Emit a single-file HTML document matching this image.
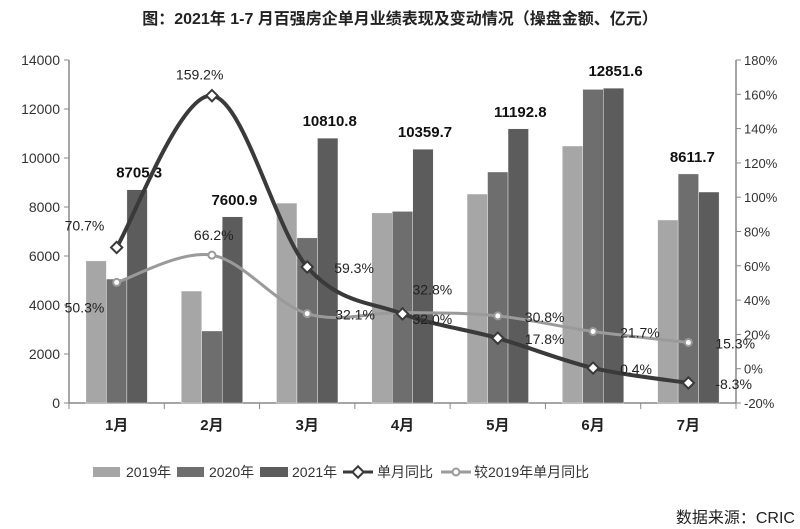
<!DOCTYPE html>
<html><head><meta charset="utf-8"><style>
body{margin:0;background:#fff;}
svg text{font-family:"Liberation Sans","Noto Sans CJK SC",sans-serif;}
</style></head><body>
<svg width="800" height="524" viewBox="0 0 800 524">
<text x="400" y="24" text-anchor="middle" font-size="16" font-weight="bold" fill="#222">图：2021年 1-7 月百强房企单月业绩表现及变动情况（操盘金额、亿元）</text>
<g id="axes"></g>
<g id="bars"></g>
<g id="lines"></g>
<g id="legend">
<rect x="93" y="467" width="27" height="10" fill="#a6a6a6"/>
<text x="126" y="477" font-size="14" fill="#333">2019年</text>
<rect x="177" y="467" width="27" height="10" fill="#6e6e6e"/>
<text x="209" y="477" font-size="14" fill="#333">2020年</text>
<rect x="260" y="467" width="28" height="10" fill="#5c5c5c"/>
<text x="292" y="477" font-size="14" fill="#333">2021年</text>
<line x1="343" y1="472" x2="373" y2="472" stroke="#3a3a3a" stroke-width="3"/>
<rect x="354" y="468" width="8" height="8" transform="rotate(45 358 472)" fill="#fff" stroke="#3a3a3a" stroke-width="2"/>
<text x="377" y="477" font-size="14" fill="#333">单月同比</text>
<line x1="441" y1="472" x2="471" y2="472" stroke="#9a9a9a" stroke-width="3"/>
<circle cx="456" cy="472" r="3.5" fill="#fff" stroke="#9a9a9a" stroke-width="2"/>
<text x="474" y="477" font-size="14" fill="#333">较2019年单月同比</text>
</g>
<text x="795" y="523" text-anchor="end" font-size="16" fill="#222">数据来源：CRIC</text>
</svg>
<script>
const categories=["1月","2月","3月","4月","5月","6月","7月"];
const sales2019=[5800,4570,8160,7760,8530,10490,7470];
const sales2020=[5060,2940,6740,7820,9430,12800,9350];
const sales2021=[8705.3,7600.9,10810.8,10359.7,11192.8,12851.6,8611.7];
const yoy=[70.7,159.2,59.3,32.0,17.8,0.4,-8.3];
const vs2019=[50.3,66.2,32.1,32.8,30.8,21.7,15.3];
const leftTicks=[0,2000,4000,6000,8000,10000,12000,14000];
const rightTicks=[-20,0,20,40,60,80,100,120,140,160,180];

const NS="http://www.w3.org/2000/svg";
const X0=69,X1=736,Y0=403,Y1=60;
const band=(X1-X0)/categories.length;
const yL=v=>Y0-(v/14000)*(Y0-Y1);
const yR=v=>Y0-((v+20)/200)*(Y0-Y1);
const xC=i=>X0+band*i+band/2;
function mk(tag,attrs,parent){const e=document.createElementNS(NS,tag);for(const k in attrs)e.setAttribute(k,attrs[k]);parent.appendChild(e);return e;}
const axes=document.getElementById('axes'),bars=document.getElementById('bars'),lines=document.getElementById('lines');

let a=mk('line',{x1:X0,y1:Y1,x2:X0,y2:Y0,stroke:'#888','stroke-width':1.5},axes);


a=mk('line',{x1:X1,y1:Y1,x2:X1,y2:Y0,stroke:'#888','stroke-width':1.5},axes);


a=mk('line',{x1:X0,y1:Y0,x2:X1,y2:Y0,stroke:'#888','stroke-width':1.5},axes);


leftTicks.forEach(v=>{
  mk('line',{x1:X0-5,y1:yL(v),x2:X0,y2:yL(v),stroke:'#888'},axes);
  const t=mk('text',{x:X0-9,y:yL(v)+5,'text-anchor':'end','font-size':14,fill:'#333'},axes);
  t.textContent=v;
  
  
});
rightTicks.forEach(v=>{
  mk('line',{x1:X1,y1:yR(v),x2:X1+5,y2:yR(v),stroke:'#888'},axes);
  const t=mk('text',{x:X1+8,y:yR(v)+5,'font-size':13,fill:'#333'},axes);
  t.textContent=v+'%';
  
  
});
for(let i=0;i<=categories.length;i++){mk('line',{x1:X0+band*i,y1:Y0,x2:X0+band*i,y2:Y0+6,stroke:'#888'},axes);}
categories.forEach((c,i)=>{
  const t=mk('text',{x:xC(i),y:430,'text-anchor':'middle','font-size':15,'font-weight':'bold',fill:'#222'},axes);
  t.textContent=c;
  
  
});
const series=[[sales2019,'#a6a6a6','bar-2019'],[sales2020,'#6e6e6e','bar-2020'],[sales2021,'#5c5c5c','bar-2021']];
const bw=20.5;
categories.forEach((c,i)=>{
  series.forEach((s,k)=>{
    const v=s[0][i];
    const r=mk('rect',{x:xC(i)-bw*1.5+k*bw,y:yL(v),width:bw,height:Y0-yL(v),fill:s[1],stroke:'#fff','stroke-width':0.4},bars);
    
    
  });
  const dx=(i===categories.length-1)?4:bw+2;
  const topV=Math.max(sales2021[i],sales2020[i]);
  const t=mk('text',{x:xC(i)+dx,y:yL(topV)-12,'text-anchor':'middle','font-size':15,'font-weight':'bold',fill:'#111'},bars);
  t.textContent=sales2021[i].toFixed(1);
  
  
});
function smooth(pts){
  let d='M'+pts[0][0]+','+pts[0][1];
  for(let i=0;i<pts.length-1;i++){
    const p0=pts[i-1]||pts[i],p1=pts[i],p2=pts[i+1],p3=pts[i+2]||p2;
    const c1=[p1[0]+(p2[0]-p0[0])/6,p1[1]+(p2[1]-p0[1])/6];
    const c2=[p2[0]-(p3[0]-p1[0])/6,p2[1]-(p3[1]-p1[1])/6];
    d+=' C'+c1+' '+c2+' '+p2;
  }
  return d;
}
function drawLine(vals,color,name,diamond,labelDx,labelDy){
  const pts=vals.map((v,i)=>[xC(i),yR(v)]);
  const p=mk('path',{d:smooth(pts),fill:'none',stroke:color,'stroke-width':diamond?4:3},lines);
  
  
  pts.forEach((q,i)=>{
    let m;
    if(diamond) m=mk('rect',{x:q[0]-4,y:q[1]-4,width:8,height:8,transform:`rotate(45 ${q[0]} ${q[1]})`,fill:'#fff',stroke:color,'stroke-width':2},lines);
    else m=mk('circle',{cx:q[0],cy:q[1],r:3.5,fill:'#fff',stroke:color,'stroke-width':2},lines);
    
    
    const t=mk('text',{x:q[0]+labelDx[i],y:q[1]+labelDy[i],'font-size':14,fill:'#222'},lines);
    t.textContent=vals[i].toFixed(1)+'%';
    
    
  });
}
drawLine(vs2019,'#9a9a9a','vs2019',false,[-52,-18,28,10,27,27,27],[30,-15,6,-18,6,6,6]);
drawLine(yoy,'#3a3a3a','yoy',true,[-52,-36,27,10,27,27,27],[-17,-16,6,10,6,6,6]);
</script>
</body></html>
